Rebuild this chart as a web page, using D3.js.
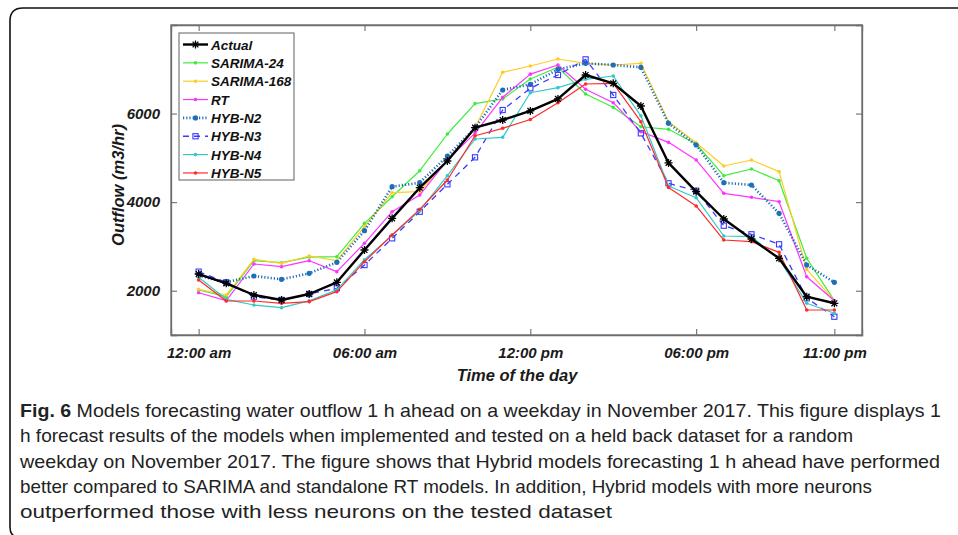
<!DOCTYPE html>
<html>
<head>
<meta charset="utf-8">
<script src="https://cdnjs.cloudflare.com/ajax/libs/d3/7.8.5/d3.min.js"></script>
<style>
  body { margin: 0; background: #fff; }
  svg { display: block; }
</style>
</head>
<body>
<div class="figure"></div>
<script>
// hours 0..23, values (m3/hr)
var hours = d3.range(0, 24);

var actual   = [2377, 2167, 1903, 1790, 1926, 2190, 2919, 3634, 4326, 4929, 5681, 5855,
                6060, 6330, 6871, 6683, 6171, 4885, 4236, 3619, 3168, 2732, 1865, 1716];
var sarima24 = [2016, 1865, 2678, 2633, 2760, 2768, 3522, 4123, 4710, 5539, 6225, 6330,
                6780, 7045, 6442, 6141, 5703, 5645, 5313, 4597, 4748, 4484, 2732, 1775];
var sarima168 = [2032, 1903, 2709, 2618, 2784, 2678, 3446, 4213, 4236, 4951, 5680, 6932,
                 7074, 7232, 7134, 7097, 7134, 5817, 5342, 4816, 4952, 4688, 2484, 1775];
var rt       = [1955, 1775, 2603, 2542, 2678, 2430, 3071, 3784, 4161, 4950, 5560, 6367,
                6890, 7097, 6548, 6246, 5591, 5350, 4952, 4199, 4109, 4010, 2316, 1775];
var hybN2    = [2340, 2190, 2332, 2257, 2393, 2641, 3355, 4349, 4439, 5042, 5680, 6532,
                6661, 6999, 7134, 7097, 7045, 5780, 5290, 4439, 4387, 3748, 2580, 2190];
var hybN3    = [2430, 2190, 1866, 1790, 1926, 2054, 2580, 3183, 3784, 4403, 5012, 6080,
                6571, 6871, 7224, 6419, 5554, 4425, 4258, 3468, 3274, 3048, 1829, 1413];
var hybN4    = [2303, 1806, 1677, 1617, 1770, 2020, 2700, 3250, 3810, 4597, 5426, 5464,
                6470, 6585, 6774, 6848, 5950, 4364, 4100, 3235, 3220, 2720, 1716, 1490];
var hybN5    = [2242, 1768, 1768, 1715, 1753, 1978, 2655, 3258, 3838, 4500, 5500, 5667,
                5866, 6246, 6668, 6683, 5817, 4330, 3913, 3145, 3107, 2867, 1565, 1565];

var xTickValues = [0, 6, 12, 18, 23];
var xTickLabels = ['12:00 am', '06:00 am', '12:00 pm', '06:00 pm', '11:00 pm'];
var yTickValues = [2000, 4000, 6000];

var captionLines = [
  'Models forecasting water outflow 1 h ahead on a weekday in November 2017. This figure displays 1',
  'h forecast results of the models when implemented and tested on a held back dataset for a random',
  'weekday on November 2017. The figure shows that Hybrid models forecasting 1 h ahead have performed',
  'better compared to SARIMA and standalone RT models. In addition, Hybrid models with more neurons',
  'outperformed those with less neurons on the tested dataset'
];
var captionWidths = [921, 833, 920, 852, 592];

var series = [
  { name: 'SARIMA-24',  values: sarima24,  color: '#3dec3d', width: 1.2, dash: null, marker: 'dot', r: 1.8 },
  { name: 'SARIMA-168', values: sarima168, color: '#ffcc26', width: 1.2, dash: null, marker: 'dot', r: 1.8 },
  { name: 'RT',         values: rt,        color: '#ff33ff', width: 1.2, dash: null, marker: 'dot', r: 1.8 },
  { name: 'HYB-N2',     values: hybN2,     color: '#1f6fb8', width: 2.6, dash: '1.2,2', marker: 'dot', r: 2.6 },
  { name: 'HYB-N3',     values: hybN3,     color: '#3b3bff', width: 1.3, dash: '6,5', marker: 'square', r: 2.6 },
  { name: 'HYB-N4',     values: hybN4,     color: '#33c8c8', width: 1.2, dash: null, marker: 'dot', r: 1.8 },
  { name: 'HYB-N5',     values: hybN5,     color: '#ff2a2a', width: 1.2, dash: null, marker: 'dot', r: 1.8 },
  { name: 'Actual',     values: actual,    color: '#000000', width: 2.4, dash: null, marker: 'star', r: 4 }
];
var legendOrder = ['Actual', 'SARIMA-24', 'SARIMA-168', 'RT', 'HYB-N2', 'HYB-N3', 'HYB-N4', 'HYB-N5'];

(function() {
  var W = 958, H = 535;
  var plot = { left: 171, right: 862, top: 25, bottom: 335 };

  var svg = d3.select('.figure').append('svg')
    .attr('width', W)
    .attr('height', H);

  // rounded frame of the figure
  svg.append('path')
    .attr('d', 'M 960,8 L 23,8 Q 10,8 10,21 L 10,527 Q 10,535 16,537')
    .attr('fill', 'none')
    .attr('stroke', '#111')
    .attr('stroke-width', 1.6);

  var x = d3.scaleLinear().domain([-1, 24]).range([plot.left, plot.right]);
  var y = d3.scaleLinear().domain([1000, 8000]).range([plot.bottom, plot.top]);

  var axisFont = '"Liberation Sans", Arial, sans-serif';
  var axisColor = '#6e6e6e';

  // axes with inward ticks, mirrored on top / right
  var xb = svg.append('g').attr('transform', 'translate(0,' + plot.bottom + ')')
    .call(d3.axisBottom(x).tickValues(xTickValues).tickSize(-6).tickPadding(12)
      .tickFormat(function(d, i) { return xTickLabels[i]; }));
  var xt = svg.append('g').attr('transform', 'translate(0,' + plot.top + ')')
    .call(d3.axisTop(x).tickValues(xTickValues).tickSize(-6).tickFormat(''));
  var yl = svg.append('g').attr('transform', 'translate(' + plot.left + ',0)')
    .call(d3.axisLeft(y).tickValues(yTickValues).tickSize(-6).tickPadding(11)
      .tickFormat(d3.format('d')));
  var yr = svg.append('g').attr('transform', 'translate(' + plot.right + ',0)')
    .call(d3.axisRight(y).tickValues(yTickValues).tickSize(-6).tickFormat(''));

  [xb, xt, yl, yr].forEach(function(g) {
    g.select('.domain').attr('stroke', axisColor).attr('stroke-width', 1.3);
    g.selectAll('.tick line').attr('stroke', axisColor).attr('stroke-width', 1.1);
    g.selectAll('.tick text')
      .attr('fill', '#1a1a1a')
      .style('font-family', axisFont)
      .style('font-size', '15px')
      .style('font-weight', 'bold')
      .style('font-style', 'italic');
  });
  // close the box
  svg.append('rect')
    .attr('x', plot.left).attr('y', plot.top)
    .attr('width', plot.right - plot.left).attr('height', plot.bottom - plot.top)
    .attr('fill', 'none').attr('stroke', axisColor).attr('stroke-width', 1.3);

  svg.append('text')
    .attr('transform', 'translate(124,185) rotate(-90)')
    .attr('text-anchor', 'middle')
    .style('font-family', axisFont).style('font-size', '16.5px')
    .style('font-weight', 'bold').style('font-style', 'italic')
    .attr('fill', '#1a1a1a')
    .text('Outflow (m3/hr)');

  svg.append('text')
    .attr('x', 517).attr('y', 381)
    .attr('text-anchor', 'middle')
    .style('font-family', axisFont).style('font-size', '16.5px')
    .style('font-weight', 'bold').style('font-style', 'italic')
    .attr('fill', '#1a1a1a')
    .text('Time of the day');

  var line = d3.line()
    .x(function(d, i) { return x(hours[i]); })
    .y(function(d) { return y(d); });

  var starPath = function(r) {
    var a = r * 0.72;
    return 'M0,' + (-r) + 'V' + r + 'M' + (-r) + ',0H' + r +
      'M' + (-a) + ',' + (-a) + 'L' + a + ',' + a +
      'M' + (-a) + ',' + a + 'L' + a + ',' + (-a);
  };

  var drawMarker = function(g, s, cx, cy) {
    if (s.marker === 'dot') {
      g.append('circle').attr('cx', cx).attr('cy', cy).attr('r', s.r)
        .attr('fill', s.color);
    } else if (s.marker === 'square') {
      g.append('rect').attr('x', cx - s.r).attr('y', cy - s.r)
        .attr('width', s.r * 2).attr('height', s.r * 2)
        .attr('fill', 'none').attr('stroke', s.color).attr('stroke-width', 1.1);
    } else {
      g.append('path').attr('transform', 'translate(' + cx + ',' + cy + ')')
        .attr('d', starPath(s.r))
        .attr('fill', 'none').attr('stroke', s.color).attr('stroke-width', 1.3);
    }
  };

  var lines = svg.append('g');
  series.forEach(function(s) {
    var g = lines.append('g').attr('class', 'series');
    g.append('path')
      .datum(s.values)
      .attr('d', line)
      .attr('fill', 'none')
      .attr('stroke', s.color)
      .attr('stroke-width', s.width)
      .attr('stroke-dasharray', s.dash)
      .attr('stroke-linejoin', 'round');
    s.values.forEach(function(v, i) {
      drawMarker(g, s, x(hours[i]), y(v));
    });
  });

  // legend
  var lg = svg.append('g');
  lg.append('rect')
    .attr('x', 179).attr('y', 33).attr('width', 115).attr('height', 147)
    .attr('fill', '#fff').attr('stroke', axisColor).attr('stroke-width', 1.1);
  legendOrder.forEach(function(name, i) {
    var s = series.filter(function(d) { return d.name === name; })[0];
    var ly = 44.5 + i * 18.35;
    var row = lg.append('g');
    row.append('line')
      .attr('x1', 183).attr('x2', 208).attr('y1', ly).attr('y2', ly)
      .attr('stroke', s.color).attr('stroke-width', s.width)
      .attr('stroke-dasharray', s.dash);
    drawMarker(row, s, 195.5, ly);
    row.append('text')
      .attr('x', 211).attr('y', ly + 5)
      .style('font-family', axisFont).style('font-size', '13.5px')
      .style('font-weight', 'bold').style('font-style', 'italic')
      .attr('fill', '#111')
      .text(name);
  });

  // caption, fitted to the line widths of the original
  var capFont = '"Liberation Sans", Arial, sans-serif';
  var cap = svg.append('g');
  captionLines.forEach(function(t, i) {
    var tx = cap.append('text')
      .attr('x', 20).attr('y', 417 + i * 25.3)
      .attr('textLength', captionWidths[i])
      .attr('lengthAdjust', 'spacingAndGlyphs')
      .style('font-family', capFont).style('font-size', '18.5px')
      .attr('fill', '#222');
    if (i === 0) {
      tx.append('tspan').style('font-weight', 'bold').text('Fig. 6');
      tx.append('tspan').text(' ' + t);
    } else {
      tx.text(t);
    }
  });
}).call(this);
</script>
</body>
</html>
